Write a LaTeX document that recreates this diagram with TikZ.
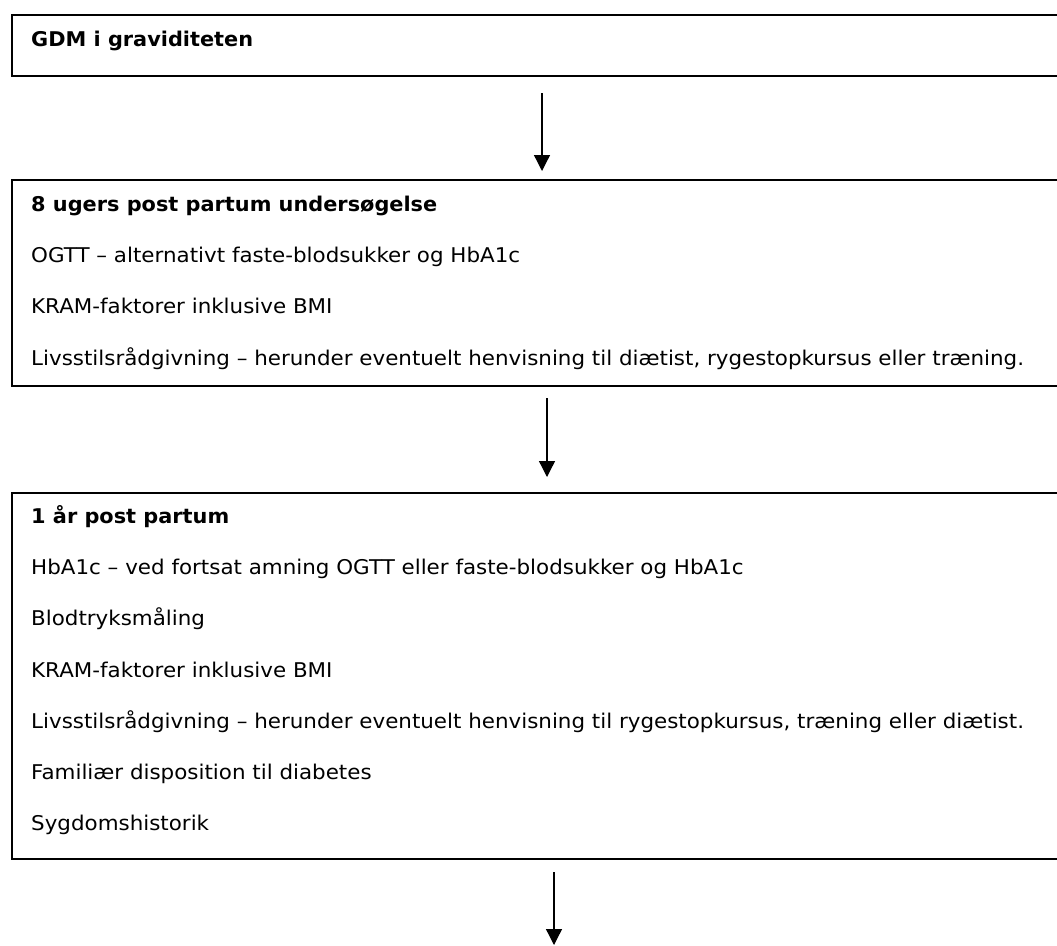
\documentclass[tikz,border=0pt]{standalone}
\usepackage{fontspec}
\setmainfont{DejaVu Sans}[FakeStretch=1.055,BoldFeatures={FakeStretch=1.027}]
\usetikzlibrary{arrows.meta}
\begin{document}
\begin{tikzpicture}[x=1pt,y=-1pt,
  box/.style={draw=black,line width=1.8pt,rectangle,anchor=north west,inner sep=0pt},
  txt/.style={anchor=base west,inner sep=0pt,font=\fontsize{20.3}{24}\selectfont},
  hd/.style={txt,font=\fontsize{20.3}{24}\selectfont\bfseries},
  flow/.style={line width=1.3pt,-{Triangle[width=16pt,length=16pt]}}]
\useasboundingbox (0,0) rectangle (1057,945);
\clip (0,0) rectangle (1057,945);
% boxes
\node[box,minimum width=1080pt,minimum height=61pt] (b1) at (11,14) {};
\node[box,minimum width=1080pt,minimum height=206pt] (b2) at (11,179) {};
\node[box,minimum width=1080pt,minimum height=366pt] (b3) at (11,492) {};
% box 1
\node[hd] (t1) at (31,46) {GDM i graviditeten};
% box 2
\node[hd] (t2a) at (31,211) {8 ugers post partum undersøgelse};
\node[txt] (t2b) at (31,262.3) {OGTT – alternativt faste-blodsukker og HbA1c};
\node[txt] (t2c) at (31,313.6) {KRAM-faktorer inklusive BMI};
\node[txt] (t2d) at (31,365) {Livsstilsrådgivning – herunder eventuelt henvisning til diætist, rygestopkursus eller træning.};
% box 3
\node[hd] (t3a) at (31,523) {1 år post partum};
\node[txt] (t3b) at (31,574.3) {HbA1c – ved fortsat amning OGTT eller faste-blodsukker og HbA1c};
\node[txt] (t3c) at (31,625.6) {Blodtryksmåling};
\node[txt] (t3d) at (31,677) {KRAM-faktorer inklusive BMI};
\node[txt] (t3e) at (31,728.2) {Livsstilsrådgivning – herunder eventuelt henvisning til rygestopkursus, træning eller diætist.};
\node[txt] (t3f) at (31,779.5) {Familiær disposition til diabetes};
\node[txt] (t3g) at (31,830.8) {Sygdomshistorik};
% arrows
\coordinate (a1s) at (542,93);
\coordinate (a1e) at (542,171);
\coordinate (a2s) at (547,398);
\coordinate (a2e) at (547,477);
\coordinate (a3s) at (554,872);
\coordinate (a3e) at (554,945);
\draw[flow] (a1s) -- (a1e);
\draw[flow] (a2s) -- (a2e);
\draw[flow] (a3s) -- (a3e);
\end{tikzpicture}
\end{document}
